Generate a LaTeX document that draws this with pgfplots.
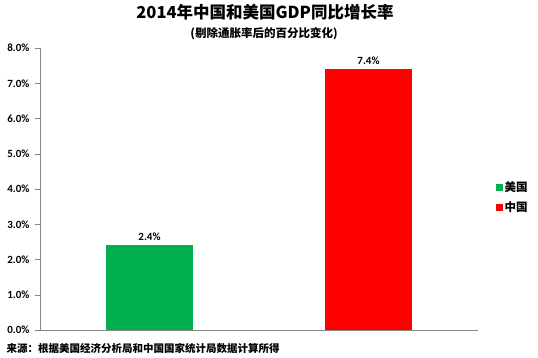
\documentclass[border=0pt]{standalone}
\usepackage{fontspec}
\setmainfont{Carlito}
\newfontfamily\cjk{Noto Sans CJK SC}
\usepackage{pgfplots}
\pgfplotsset{compat=1.18}
\definecolor{usgreen}{RGB}{0,176,80}
\definecolor{cnred}{RGB}{255,0,0}
\definecolor{axgray}{RGB}{134,134,134}
\begin{document}
\begin{tikzpicture}[x=1pt,y=1pt]
\path[use as bounding box] (-40,-27) rectangle (498,330);
\begin{axis}[
  at={(0,0)}, anchor=south west,
  scale only axis, width=438pt, height=282pt,
  xmin=-0.5, xmax=1.5, ymin=0, ymax=8,
  axis x line*=bottom, axis y line*=left,
  axis line style={axgray},
  xtick=\empty,
  ytick={0,1,...,8},
  tick style={axgray},
  y tick label style={font=\bfseries\fontsize{11}{12}\selectfont, xshift=-2pt},
  major tick length=5pt,
  tick align=outside,
  /pgf/number format/assume math mode=true,
  yticklabel={\pgfmathprintnumber[fixed,fixed zerofill,precision=1]{\tick}\%},
  ybar, bar width=0.4, bar shift=0pt,
  nodes near coords={\pgfmathprintnumber[fixed,fixed zerofill,precision=1]{\pgfplotspointmeta}\%},
  every node near coord/.append style={font=\bfseries\fontsize{11}{12}\selectfont, black, yshift=1pt},
  legend style={at={(axis description cs:1.04,0.47)}, anchor=west, draw=none, fill=none,
    font=\cjk\bfseries\fontsize{11.5}{13}\selectfont, row sep=5pt, inner sep=0pt},
  legend image code/.code={\fill[#1] (0pt,-3.5pt) rectangle (7pt,3.5pt);},
  clip=false,
]
\addplot[fill=usgreen, draw=none] coordinates {(0,2.4)};
\addlegendentry{美国}
\addplot[fill=cnred, draw=none] coordinates {(1,7.4)};
\addlegendentry{中国}
\end{axis}
\node[font=\cjk\bfseries\fontsize{16.5}{19}\selectfont] at (225,318) {2014年中国和美国GDP同比增长率};
\node[font=\cjk\bfseries\fontsize{11.5}{13}\selectfont] at (224,296) {(剔除通胀率后的百分比变化)};
\node[font=\cjk\bfseries\fontsize{10.5}{12}\selectfont, anchor=west] at (-37,-18) {来源：根据美国经济分析局和中国国家统计局数据计算所得};
\end{tikzpicture}
\end{document}
